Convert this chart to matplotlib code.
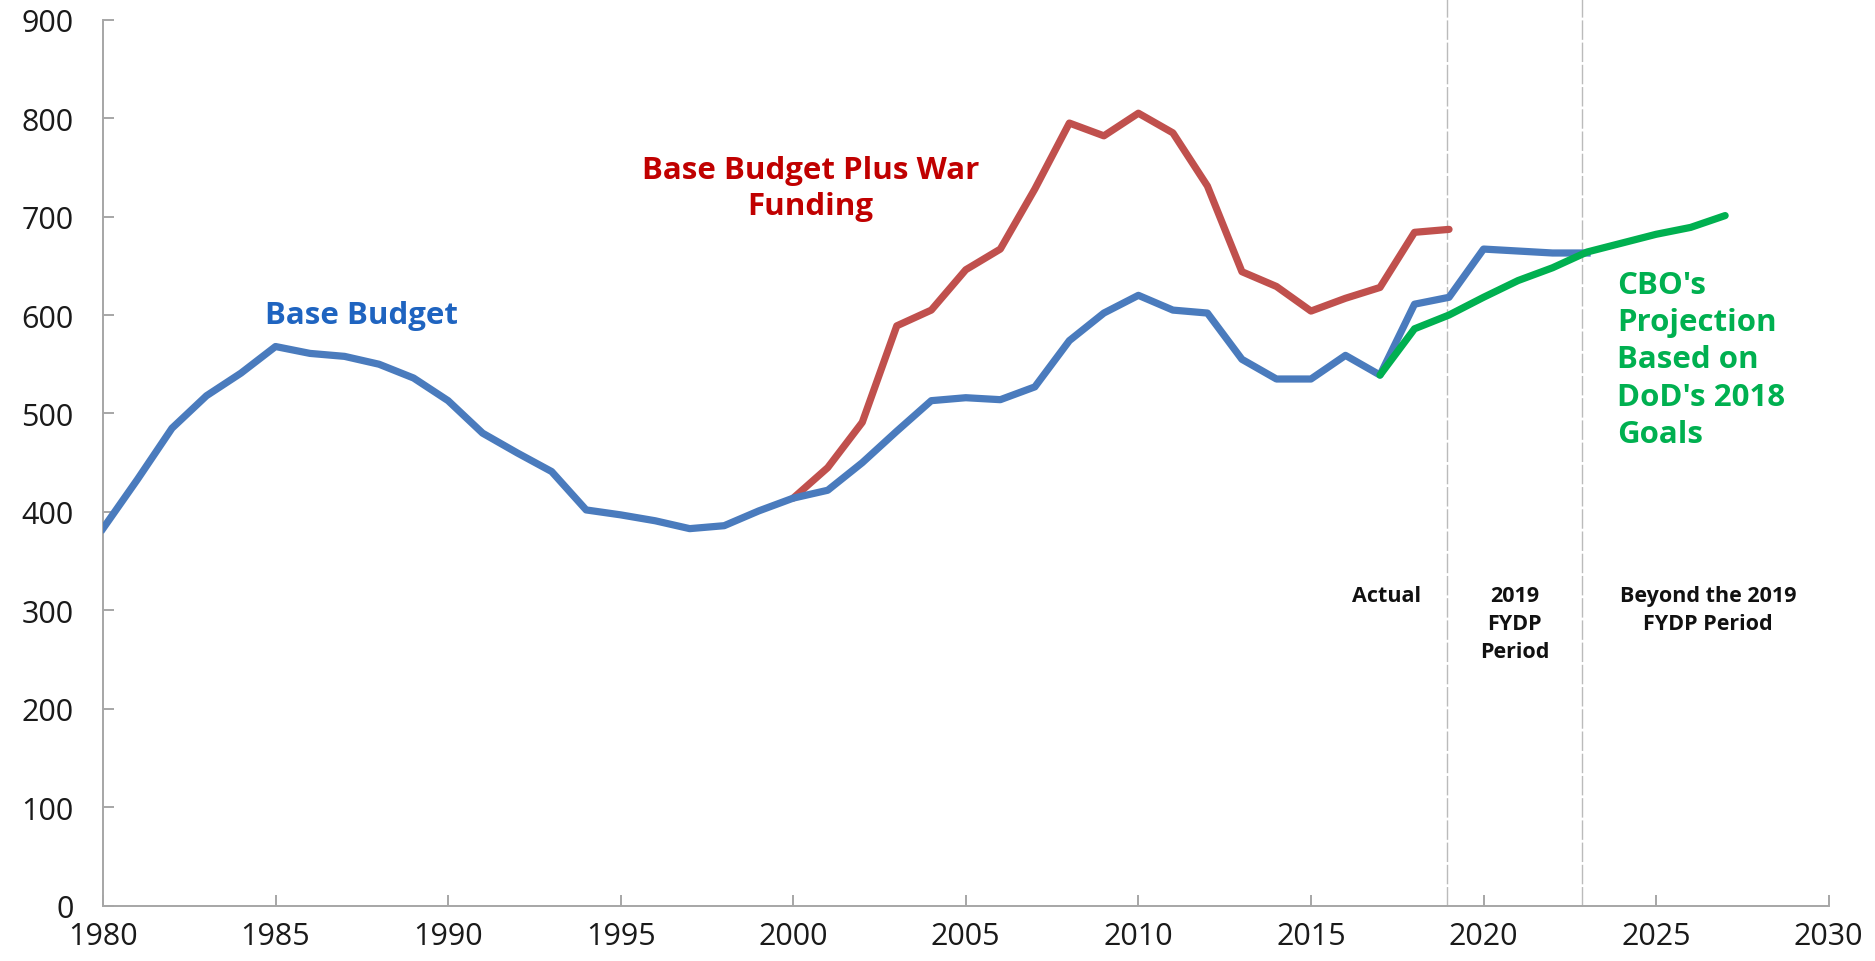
import numpy as np
import matplotlib.pyplot as plt

# values (billions of dollars)
years_base = list(range(1980, 2024))
base_budget = [383, 433, 485, 518, 541, 568, 561, 558, 550, 536,
               513, 480, 460, 441, 402, 397, 391, 383, 386, 401,
               414, 422, 450, 482, 513, 516, 514, 527, 574, 602,
               620, 605, 602, 555, 535, 535, 559, 539, 611, 618,
               667, 665, 663, 663]

years_war = list(range(2000, 2020))
war_funding = [414, 445, 491, 589, 605, 646, 667, 728, 795, 782,
               805, 785, 731, 644, 629, 604, 617, 628, 684, 687]

years_cbo = list(range(2017, 2028))
cbo_projection = [539, 586, 600, 618, 635, 648, 664, 673, 682, 689, 701]

# boundaries of the Actual / FYDP / beyond periods
period_lines = [2018.95, 2022.85]

blue_line = "#4A7BBD"
red_line = "#C0504D"
green_line = "#00B050"

plt.rcParams['font.family'] = ['Open Sans', 'DejaVu Sans']

fig = plt.figure(figsize=(18.75, 9.62), dpi=100)
ax = fig.add_axes([0.0549, 0.0575, 0.9204, 0.921])

ax.plot(years_base, base_budget, color=blue_line, lw=5.2, zorder=3)
ax.plot(years_war, war_funding, color=red_line, lw=5.2, solid_capstyle='round', zorder=2)
ax.plot(years_cbo, cbo_projection, color=green_line, lw=5.2, solid_capstyle='round', zorder=4)

for yr in period_lines:
    ax.plot([yr, yr], [0, 921], color="#BBBBBB", lw=1.0, ls=(0, (14, 2)),
            clip_on=False, zorder=1)

ax.set_xlim(1980, 2030)
ax.set_ylim(0, 900)
ax.set_xticks(range(1980, 2031, 5))
ax.set_yticks(range(0, 901, 100))

for side in ['top', 'right']:
    ax.spines[side].set_visible(False)
for side in ['left', 'bottom']:
    ax.spines[side].set_color("#A6A6A6")
    ax.spines[side].set_linewidth(1.4)

ax.tick_params(axis='both', direction='in', length=8, width=1.4, color="#A6A6A6",
               labelsize=22, labelcolor="#1A1A1A")
ax.tick_params(axis='y', pad=21)
ax.tick_params(axis='x', pad=11)

# series labels
ax.text(1987.5, 600, "Base Budget", color="#1F64C0", fontsize=22.5, fontweight='bold',
        ha='center', va='center')
ax.text(2000.5, 729, "Base Budget Plus War\nFunding", color="#C00000", fontsize=22.5,
        fontweight='bold', ha='center', va='center', linespacing=1.3)
ax.text(2023.87, 555, "CBO's\nProjection\nBased on\nDoD's 2018\nGoals", color=green_line,
        fontsize=22.5, fontweight='bold', ha='left', va='center', linespacing=1.32)

# period labels
ax.text(2017.2, 315, "Actual", fontsize=15.5, fontweight='bold', color="#111111",
        ha='center', va='center')
ax.text(2020.9, 326, "2019\nFYDP\nPeriod", fontsize=15.5, fontweight='bold', color="#111111",
        ha='center', va='top', linespacing=1.46)
ax.text(2026.5, 326, "Beyond the 2019\nFYDP Period", fontsize=15.5, fontweight='bold',
        color="#111111", ha='center', va='top', linespacing=1.46)

fig.savefig("out.png", dpi=100)
